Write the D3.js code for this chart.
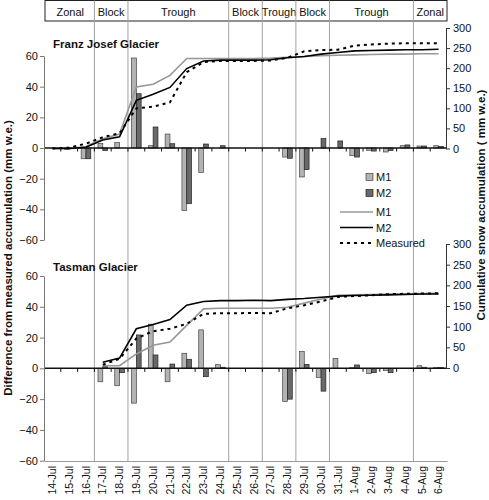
<!DOCTYPE html>
<html><head><meta charset="utf-8">
<script src="https://cdn.jsdelivr.net/npm/d3@7"></script>
<style>body{margin:0;background:#fff} svg{display:block} text{font-family:"Liberation Sans",Arial,sans-serif;fill:#111}</style>
</head><body><svg id="c" width="489" height="500"></svg>
<script>
const categories = ["14-Jul","15-Jul","16-Jul","17-Jul","18-Jul","19-Jul","20-Jul","21-Jul","22-Jul","23-Jul","24-Jul","25-Jul","26-Jul","27-Jul","28-Jul","29-Jul","30-Jul","31-Jul","1-Aug","2-Aug","3-Aug","4-Aug","5-Aug","6-Aug"];
const regimes = ["Zonal","Block","Trough","Block","Trough","Block","Trough","Zonal"];
const regimeStart = ["14-Jul","17-Jul","19-Jul","25-Jul","27-Jul","29-Jul","31-Jul","5-Aug"];
const diffTicks = [-60,-40,-20,0,20,40,60];
const cumTicks = [0,50,100,150,200,250,300];

// Franz Josef Glacier
const fjM1Diff = [0,-1,-7,3,3.7,58.7,1.5,9.1,-40.7,-15.9,0,0,0,0,-5.9,-18.9,0,0,-5,-1.5,-2.6,1.5,1.3,1.5];
const fjM2Diff = [0,-0.5,-7,-1.7,0,35.4,13.7,2.8,-36.3,2.6,1.5,0,0,0,-6.7,-14.1,6.1,4.6,-5.9,-2,-1.7,2,1.3,1];
const fjM1 = [0,0,5,24,36,153,160,182,224,224,224,224,224,225,227,229,231,232,233,234,235,235,236,236];
const fjM2 = [0,0,3,21,29,120,135,152,199,218,220,220,220,221,226,229,235,239,243,244,245,246,246,247];
const fjMeasured = [0,2,12,28,38,100,104,115,190,215,218,218,218,219,226,242,245,246,256,259,261,262,262,262];

// Tasman Glacier
const tgM1Diff = [0,0,0,-8.7,-11.3,-22.6,28.7,-8.7,9.8,25,2.4,0,0,0,-21.5,10.9,-5.9,6.5,0.5,-3.3,-1.5,0,1.7,0.5];
const tgM2Diff = [0,0,0,1.1,-2.8,21.7,8.7,2.8,5.9,-5.4,0.7,0,0,0,-20,2.6,-14.8,0,2.2,-2.8,-2.8,0,0.7,0.5];
const tgM1 = [null,null,null,5.6,5.6,34,55,63,103,143,144.5,144.5,144.5,144.5,147,157,167,176,177,178,179,179.5,180,181];
const tgM2 = [null,null,null,14,24,95,105,117,152,161,163,163,164,163,166,168,171,174,175.5,176,177,178,179,179];
const tgMeasured = [null,null,null,8,22,71.5,89,95,107,131,132.6,132.6,133,132.6,144.5,152,161,172,174,176,178.6,179.5,180,181];

const svg = d3.select("#c");
const L = 44, R = 447;
const x = d3.scaleBand().domain(categories).range([L, R]);
const bw = x.bandwidth();
const pairW = 9.6;
const xs = d3.scaleBand().domain(["M1","M2"]).range([0, pairW]);
const off = (bw - pairW) / 2;
const colM1 = "#b3b3b3", colM2 = "#696969";

// regime header + separators
svg.append("rect").attr("x", L + 1).attr("y", 0.5).attr("width", R - L - 1).attr("height", 20.5)
  .attr("fill", "none").attr("stroke", "#222").attr("stroke-width", 1);
regimeStart.forEach((s, i) => {
  const x0 = x(s);
  const x1 = i < regimeStart.length - 1 ? x(regimeStart[i + 1]) : R;
  if (i > 0) svg.append("line").attr("x1", x0).attr("x2", x0).attr("y1", 0.5).attr("y2", 461)
    .attr("stroke", "#a0a0a0").attr("stroke-width", 1);
  svg.append("text").attr("x", (x0 + x1) / 2 + (i === 0 ? 1 : 0)).attr("y", 15.5).attr("text-anchor", "middle")
    .style("font-size", "11px").text(regimes[i]);
});

function panel(cfg) {
  const yL = d3.scaleLinear().domain([-60, 60]).range(cfg.yLRange);
  const yR = d3.scaleLinear().domain([0, 300]).range(cfg.yRRange);
  const g = svg.append("g");

  // bars
  [["M1", cfg.m1d, colM1, "#444"], ["M2", cfg.m2d, colM2, "#222"]].forEach(([k, arr, fill, st]) => {
    g.selectAll(null).data(arr.map((v, i) => ({v, c: categories[i]})).filter(d => d.v !== 0))
      .enter().append("rect")
      .attr("x", d => x(d.c) + off + xs(k))
      .attr("width", xs.bandwidth())
      .attr("y", d => yL(Math.max(0, d.v)))
      .attr("height", d => Math.abs(yL(d.v) - yL(0)))
      .attr("fill", fill).attr("stroke", st).attr("stroke-width", 0.7);
  });

  // zero axis with boundary ticks
  g.append("line").attr("x1", L).attr("x2", R).attr("y1", yL(0)).attr("y2", yL(0))
    .attr("stroke", "#111").attr("stroke-width", 1.5);
  categories.forEach((c, i) => {
    if (i === 0) return;
    g.append("line").attr("x1", x(c)).attr("x2", x(c)).attr("y1", yL(0)).attr("y2", yL(0) + 3.5)
      .attr("stroke", "#111").attr("stroke-width", 1);
  });

  // lines
  const line = d3.line().defined(d => d != null)
    .x((d, i) => x(categories[i]) + bw / 2).y(d => yR(d));
  g.append("path").datum(cfg.m1).attr("d", line).attr("fill", "none").attr("stroke", "#979797").attr("stroke-width", 1.6);
  g.append("path").datum(cfg.m2).attr("d", line).attr("fill", "none").attr("stroke", "#000").attr("stroke-width", 1.6);
  g.append("path").datum(cfg.meas).attr("d", line).attr("fill", "none").attr("stroke", "#000").attr("stroke-width", 2)
    .attr("stroke-dasharray", "3,4");

  // left axis
  const ax = g.append("g").attr("transform", `translate(${L},0)`)
    .call(d3.axisLeft(yL).tickValues(diffTicks).tickSize(4).tickSizeOuter(0).tickFormat(d3.format("d")));
  ax.select(".domain").attr("stroke", "#777");
  ax.selectAll(".tick line").attr("stroke", "#777");
  ax.selectAll("text").style("font-size", "11px").attr("x", -6).attr("fill", "#222");

  // right axis
  const ar = g.append("g").attr("transform", `translate(${R - 1},0)`)
    .call(d3.axisRight(yR).tickValues(cumTicks).tickSize(4).tickSizeOuter(0));
  ar.select(".domain").attr("stroke", "#333");
  ar.selectAll(".tick line").attr("stroke", "#333");
  ar.selectAll("text").style("font-size", "11px").attr("x", 7).attr("fill", "#222");

  // title
  g.append("text").attr("x", 53).attr("y", cfg.titleY).style("font-size", "11.5px").style("font-weight", "bold")
    .text(cfg.title);
  return {yL, yR};
}

panel({yLRange: [240, 56], yRRange: [148.5, 28], m1d: fjM1Diff, m2d: fjM2Diff, m1: fjM1, m2: fjM2, meas: fjMeasured,
  title: "Franz Josef Glacier", titleY: 48});
panel({yLRange: [460.7, 276], yRRange: [368, 244], m1d: tgM1Diff, m2d: tgM2Diff, m1: tgM1, m2: tgM2, meas: tgMeasured,
  title: "Tasman Glacier", titleY: 271});

// bottom category axis
const bx = svg.append("g").attr("transform", "translate(0,461)")
  .call(d3.axisBottom(x).tickSize(0).tickSizeOuter(0));
bx.select(".domain").attr("stroke", "#999");
bx.selectAll("text").attr("transform", "rotate(-90)").attr("x", -5).attr("y", 0).attr("dy", "0.35em")
  .style("text-anchor", "end").style("font-size", "10.5px").attr("fill", "#222");

// legend
const lg = svg.append("g");
[["M1", colM1, "#444"], ["M2", colM2, "#222"]].forEach(([k, f, s], i) => {
  const cy = 177 + i * 16;
  lg.append("rect").attr("x", 366).attr("y", cy - 3.5).attr("width", 7).attr("height", 7).attr("fill", f).attr("stroke", s).attr("stroke-width", 0.7);
  lg.append("text").attr("x", 376).attr("y", cy + 4).style("font-size", "11px").text(k);
});
[["M1", "#979797", null, 1.6], ["M2", "#000", null, 1.6], ["Measured", "#000", "3,4", 2]].forEach(([k, c, da, w], i) => {
  const cy = 212 + i * 15.5;
  const ln = lg.append("line").attr("x1", 340).attr("x2", 373).attr("y1", cy).attr("y2", cy).attr("stroke", c).attr("stroke-width", w);
  if (da) ln.attr("stroke-dasharray", da);
  lg.append("text").attr("x", 376).attr("y", cy + 4).style("font-size", "11px").text(k);
});

// axis titles
svg.append("text").attr("transform", "translate(12,258) rotate(-90)").attr("text-anchor", "middle")
  .style("font-size", "11.5px").style("font-weight", "bold").text("Difference from measured accumulation (mm w.e.)");
svg.append("text").attr("transform", "translate(485,205) rotate(-90)").attr("text-anchor", "middle")
  .style("font-size", "11.5px").style("font-weight", "bold").text("Cumulative snow accumulation ( mm w.e.)");
</script></body></html>
